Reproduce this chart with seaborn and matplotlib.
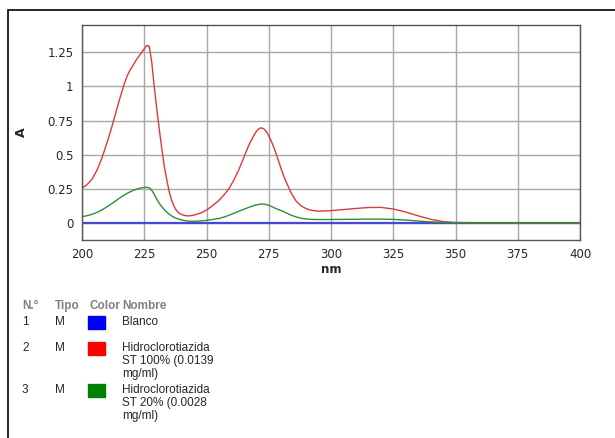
import matplotlib
matplotlib.use("Agg")
import matplotlib.pyplot as plt
import seaborn as sns
import pandas as pd
from matplotlib.patches import Rectangle

# wavelengths (nm) shared by all three spectra
wavelength = [200, 202, 204, 206, 208, 210, 212, 213, 214, 215, 216, 217, 218, 219, 220,
              221, 222, 223, 224, 225, 226, 227, 228, 229, 230, 231, 232, 233, 234, 235,
              236, 237, 238, 239, 240, 241, 242, 243, 244, 245, 248, 250, 252, 255, 257,
              259, 261, 263, 265, 267, 269, 270, 271, 272, 273, 274, 275, 276, 277, 278,
              279, 280, 281, 282, 283, 284, 285, 286, 288, 290, 292, 295, 300, 305, 310,
              315, 320, 325, 330, 335, 340, 345, 350, 360, 370, 380, 390, 400]

blanco = [0.0] * len(wavelength)

st100 = [0.255, 0.28, 0.32, 0.385, 0.475, 0.585, 0.705, 0.77, 0.835, 0.90, 0.96, 1.02, 1.07, 1.11, 1.14,
         1.17, 1.20, 1.225, 1.25, 1.275, 1.30, 1.295, 1.18, 1.00, 0.84, 0.69, 0.55, 0.42, 0.32, 0.23,
         0.165, 0.12, 0.09, 0.072, 0.062, 0.056, 0.052, 0.052, 0.054, 0.057, 0.075, 0.095, 0.12, 0.165, 0.205,
         0.25, 0.315, 0.39, 0.48, 0.57, 0.64, 0.67, 0.69, 0.697, 0.69, 0.67, 0.64, 0.60, 0.555, 0.505,
         0.45, 0.395, 0.345, 0.30, 0.26, 0.22, 0.19, 0.16, 0.125, 0.105, 0.093, 0.086, 0.09, 0.098, 0.106,
         0.113, 0.114, 0.102, 0.08, 0.052, 0.027, 0.01, 0.003, 0.001, 0.0, 0.0, 0.0, 0.0]

st20 = [0.046, 0.053, 0.063, 0.077, 0.095, 0.118, 0.142, 0.155, 0.168, 0.181, 0.193, 0.204, 0.215, 0.225, 0.234,
        0.241, 0.248, 0.253, 0.257, 0.26, 0.261, 0.258, 0.24, 0.21, 0.175, 0.145, 0.12, 0.098, 0.08, 0.064,
        0.051, 0.041, 0.033, 0.027, 0.022, 0.018, 0.015, 0.013, 0.012, 0.012, 0.015, 0.019, 0.024, 0.033, 0.043,
        0.056, 0.07, 0.086, 0.10, 0.114, 0.127, 0.132, 0.136, 0.139, 0.138, 0.135, 0.129, 0.122, 0.113, 0.104,
        0.097, 0.09, 0.083, 0.074, 0.065, 0.057, 0.05, 0.044, 0.034, 0.029, 0.026, 0.025, 0.025, 0.026, 0.027,
        0.028, 0.028, 0.026, 0.021, 0.014, 0.008, 0.003, 0.001, 0.0, 0.0, 0.0, 0.0, 0.0]

# legend table
numbers = ["1", "2", "3"]
tipos = ["M", "M", "M"]
names = ["Blanco",
         "Hidroclorotiazida\nST 100% (0.0139\nmg/ml)",
         "Hidroclorotiazida\nST 20% (0.0028\nmg/ml)"]
swatch_colors = ["#0000ff", "#ff0000", "#008000"]
line_colors = ["#4848d8", "#e03838", "#2f8f35"]

x_ticks = [200, 225, 250, 275, 300, 325, 350, 375, 400]
y_ticks = [0, 0.25, 0.5, 0.75, 1, 1.25]
y_ticklabels = ["0", "0.25", "0.5", "0.75", "1", "1.25"]

df = pd.concat([
    pd.DataFrame({"nm": wavelength, "A": vals, "serie": num})
    for vals, num in zip([blanco, st100, st20], numbers)
])

sns.set_style("white")
plt.rcParams["font.family"] = ["DejaVu Sans"]

fig = plt.figure(figsize=(6.15, 4.38), dpi=100)
W, H = 615, 438

# outer frame (right/bottom edges fall outside the image)
fig.patches.append(Rectangle((8 / W, -0.5), 1.2, 1.5 - 10 / H, transform=fig.transFigure,
                             fill=False, edgecolor="black", linewidth=1.2))

ax = fig.add_axes([82 / W, 1 - 240 / H, (580 - 82) / W, (240 - 25) / H])
ax.set_axisbelow(True)
sns.lineplot(data=df, x="nm", y="A", hue="serie", palette=line_colors, ax=ax,
             legend=False, linewidth=1.0, sort=False)
for line, lw in zip(ax.lines, [1.6, 1.0, 1.0]):
    line.set_linewidth(lw)

ax.set_xlim(200, 400)
ax.set_ylim(-0.125, 1.45)
ax.set_xticks(x_ticks)
ax.set_yticks(y_ticks)
ax.set_yticklabels(y_ticklabels)
ax.grid(True, color="#a8a8a8", linewidth=1.0)
for s in ax.spines.values():
    s.set_color("#555555")
    s.set_linewidth(1.0)
ax.tick_params(axis="both", length=3, width=1, color="#555555", labelsize=8.5, pad=3)
ax.set_xlabel("nm", fontweight="bold", fontsize=8.5, labelpad=1)
ax.set_ylabel("A", fontweight="bold", fontsize=9, labelpad=14)

# legend table below the plot
legend_font = ["Liberation Sans", "DejaVu Sans"]
hx = [22, 55, 89, 122]
for x, h in zip(hx, ["N.°", "Tipo", "Color", "Nombre"]):
    fig.text(x / W, 1 - 306 / H, h, fontsize=8.5, fontweight="bold", color="#808080",
             family=legend_font, va="center")

row_y = [322, 348, 390]
for y, n, t, c, name in zip(row_y, numbers, tipos, swatch_colors, names):
    fig.text(hx[0] / W, 1 - y / H, n, fontsize=8.5, family=legend_font, va="center")
    fig.text(hx[1] / W, 1 - y / H, t, fontsize=8.5, family=legend_font, va="center")
    fig.patches.append(Rectangle((88 / W, 1 - (y + 6.5) / H), 17 / W, 13 / H,
                                 transform=fig.transFigure, color=c))
    fig.text(hx[3] / W, 1 - (y - 6) / H, name, fontsize=8.5, family=legend_font,
             va="top", linespacing=1.1)

fig.savefig("out.png", dpi=100)
